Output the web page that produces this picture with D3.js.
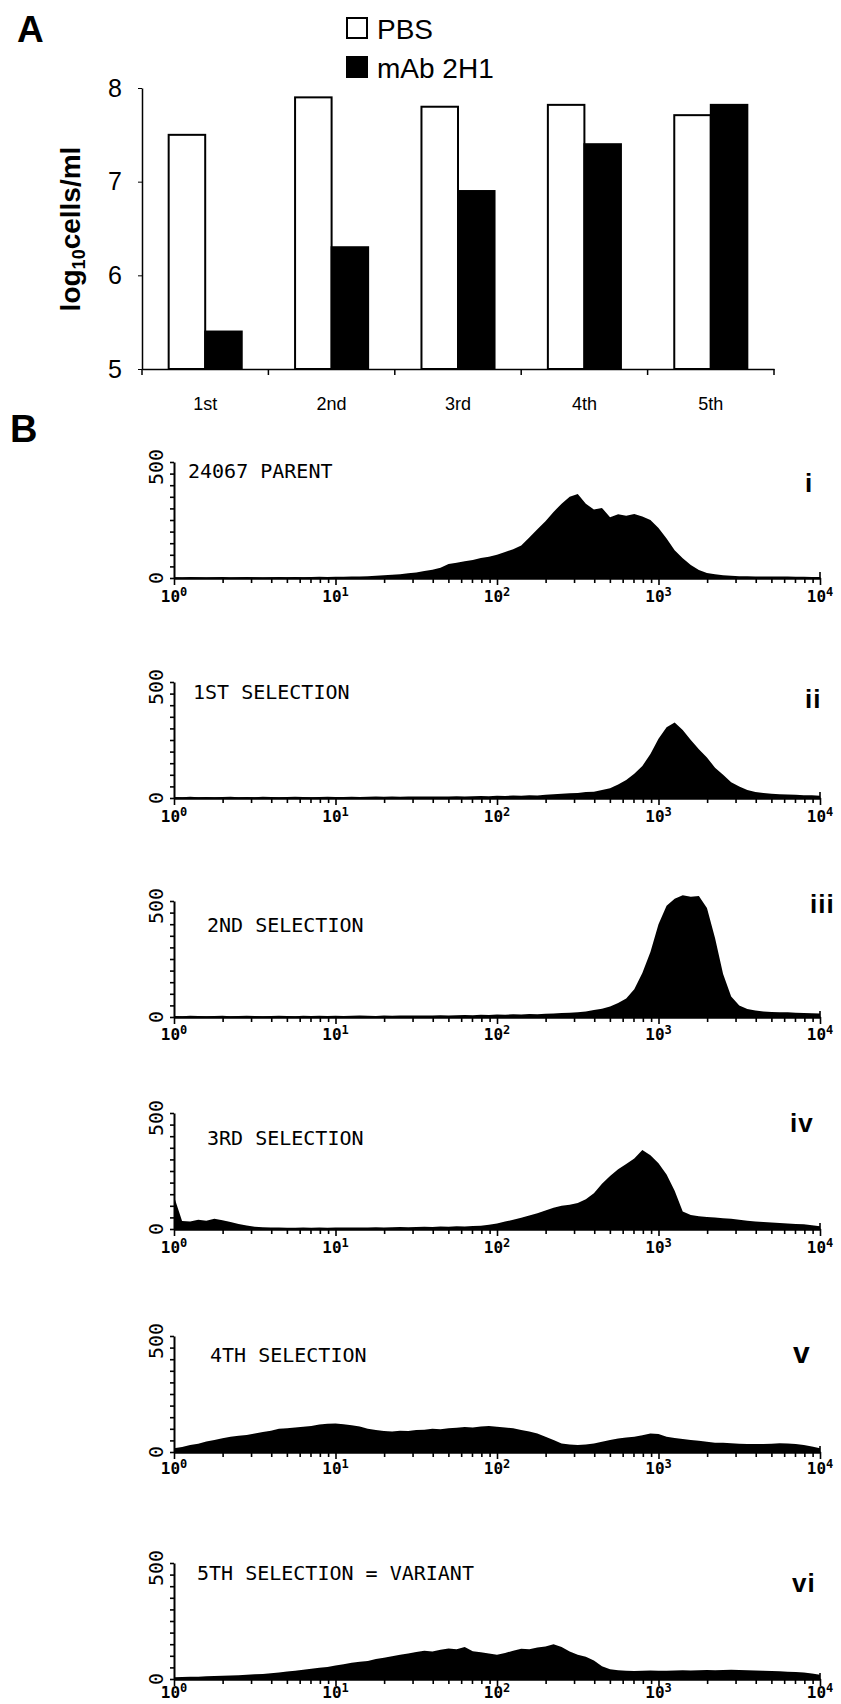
<!DOCTYPE html>
<meta charset="utf-8">
<html>
<head>
  <script src="https://cdnjs.cloudflare.com/ajax/libs/d3/7.8.5/d3.min.js"></script>
  <style>
    body { margin: 0; background: #fff; }
    svg { display: block; }
    .sans { font-family: "Liberation Sans", Arial, sans-serif; }
    .mono { font-family: "DejaVu Sans Mono", monospace; }
    .axis path, .axis line { stroke: #000; }
  </style>
</head>
<body>
<div id="chart"></div>
<script>
// ---- panel A data ----
var rounds = ["1st", "2nd", "3rd", "4th", "5th"],
    series = ["PBS", "mAb 2H1"],
    pbsValues = [7.5, 7.9, 7.8, 7.82, 7.71],
    mabValues = [5.4, 6.3, 6.9, 7.4, 7.82],
    yTicksA = [5, 6, 7, 8];

// ---- panel B data: counts per channel, 20 channels per decade (10^0 .. 10^4) ----
var panelTitles = ["24067 PARENT", "1ST SELECTION", "2ND SELECTION",
                   "3RD SELECTION", "4TH SELECTION", "5TH SELECTION = VARIANT"],
    numerals = ["i", "ii", "iii", "iv", "v", "vi"],
    decades = [0, 1, 2, 3, 4];

var histParent = [3,2,4,3,2,3,4,2,3,4,3,2,3,4,3,4,3,4,5,4,5,
                  5,6,6,8,10,12,14,16,20,24,
                  30,36,44,60,66,72,78,86,92,100,
                  112,124,140,175,210,245,285,320,350,362,
                  320,295,302,262,275,268,276,265,250,215,
                  170,120,85,56,34,22,16,12,10,
                  8,8,7,7,6,6,6,5,5,4,4];
var histSel1 = [4,3,5,3,4,3,4,5,3,4,3,5,4,3,4,5,4,3,4,5,4,
                4,5,4,5,6,5,6,5,6,7,
                6,7,6,7,8,7,8,9,8,10,
                9,11,10,12,11,14,16,18,20,22,
                26,27,35,42,58,78,105,138,190,255,
                305,325,293,250,210,175,130,100,68,50,
                34,26,22,18,16,15,14,12,12,10];
var histSel2 = [4,3,5,4,3,4,5,3,4,5,4,3,4,5,4,3,5,4,5,4,5,
                4,5,6,5,4,6,5,6,7,6,
                7,6,8,7,8,9,8,10,9,11,
                10,12,11,13,12,14,15,17,18,20,
                24,30,36,45,60,80,120,190,280,400,
                480,510,525,518,522,470,340,185,88,50,
                35,28,24,22,20,20,18,17,16,15];
var histSel3 = [140,35,32,40,36,44,38,30,22,15,10,8,6,6,5,5,6,5,6,5,6,
                6,7,6,7,8,7,8,9,8,9,
                10,9,11,10,12,11,13,14,18,24,
                32,40,48,58,68,80,92,100,104,112,
                128,154,195,228,258,280,304,340,318,283,
                235,165,75,60,55,52,50,46,44,40,
                36,32,30,28,26,24,22,20,16,12];
var histSel4 = [16,22,30,36,45,52,59,66,70,73,80,86,92,100,102,106,109,112,118,122,123,
                120,115,110,100,95,90,88,92,90,95,
                96,100,98,102,104,108,106,110,112,109,
                106,102,95,88,80,66,52,37,32,30,
                32,37,44,52,58,62,66,72,80,78,
                66,60,56,52,48,44,40,40,38,36,
                35,34,35,36,38,37,34,30,24,16];
var histSel5 = [8,9,10,10,12,13,14,15,16,18,20,22,25,28,32,36,40,44,48,52,58,
                64,70,74,78,86,92,98,104,110,116,
                122,118,126,132,128,138,120,115,110,104,
                112,122,130,128,136,140,150,138,118,105,
                96,80,55,42,38,36,35,36,37,36,
                36,37,38,37,38,39,38,39,40,39,
                38,37,36,35,33,31,30,28,24,18];

var histograms = [histParent, histSel1, histSel2, histSel3, histSel4, histSel5];

// ---- layout ----
var W = 841, H = 1704;
var svg = d3.select("#chart").append("svg")
  .attr("width", W).attr("height", H);

// ================= Panel A =================
var x0 = d3.scaleBand().domain(rounds).range([142, 774]);
var x1 = d3.scaleBand().domain(series).range([0, x0.bandwidth()])
  .paddingInner(0).paddingOuter(0.73);
var yA = d3.scaleLinear().domain([5, 8]).range([369, 88]);

svg.append("text").attr("class", "sans")
  .attr("x", 17).attr("y", 42)
  .style("font-size", "37px").style("font-weight", "bold")
  .text("A");

var groups = svg.selectAll(".round")
  .data(rounds.map(function(r, i) { return {round: r, vals: [pbsValues[i], mabValues[i]]}; }))
  .enter().append("g")
  .attr("class", "round")
  .attr("transform", function(d) { return "translate(" + x0(d.round) + ",0)"; });

groups.selectAll("rect")
  .data(function(d) { return d.vals.map(function(v, j) { return {s: series[j], v: v}; }); })
  .enter().append("rect")
  .attr("x", function(d) { return x1(d.s); })
  .attr("y", function(d) { return yA(d.v); })
  .attr("width", x1.bandwidth())
  .attr("height", function(d) { return yA(5) - yA(d.v); })
  .style("fill", function(d) { return d.s == "PBS" ? "#fff" : "#000"; })
  .style("stroke", "#000")
  .style("stroke-width", 2);

var yAxisA = svg.append("g").attr("class", "axis sans")
  .attr("transform", "translate(142,0)")
  .call(d3.axisLeft(yA).tickValues(yTicksA).tickSize(4).tickSizeOuter(0).tickPadding(16).tickFormat(d3.format("d")));
yAxisA.selectAll("text").style("font-size", "25px").style("fill", "#000");
yAxisA.select(".domain").style("stroke-width", 1.5);

var xAxisA = svg.append("g").attr("class", "axis sans")
  .attr("transform", "translate(0,369)")
  .call(d3.axisBottom(x0).tickSize(0).tickSizeOuter(0).tickPadding(28));
xAxisA.selectAll("text").style("font-size", "18px").style("fill", "#000");
xAxisA.select(".domain").style("stroke-width", 1.5);

var boundaries = rounds.map(function(r) { return x0(r); }).concat([x0.range()[1]]);
svg.selectAll(".bound").data(boundaries).enter().append("line")
  .attr("x1", function(d) { return d; }).attr("x2", function(d) { return d; })
  .attr("y1", 369).attr("y2", 375)
  .style("stroke", "#000").style("stroke-width", 1.5);

var title = svg.append("text").attr("class", "sans")
  .attr("transform", "translate(80,229) rotate(-90)")
  .attr("text-anchor", "middle")
  .style("font-size", "28px").style("font-weight", "bold");
title.append("tspan").text("log");
title.append("tspan").attr("dy", 5).style("font-size", "18px").text("10");
title.append("tspan").attr("dy", -5).text("cells/ml");

var legend = svg.selectAll(".legend").data(series).enter().append("g")
  .attr("class", "legend")
  .attr("transform", function(d, i) { return "translate(347," + (18 + i * 39) + ")"; });
legend.append("rect")
  .attr("width", 20).attr("height", 20)
  .style("fill", function(d, i) { return i == 0 ? "#fff" : "#000"; })
  .style("stroke", "#000").style("stroke-width", 2);
legend.append("text").attr("class", "sans")
  .attr("x", 30).attr("y", 21)
  .style("font-size", "28px")
  .text(function(d) { return d; });

// ================= Panel B =================
svg.append("text").attr("class", "sans")
  .attr("x", 10).attr("y", 442)
  .style("font-size", "38px").style("font-weight", "bold")
  .text("B");

var baselines = [578, 798, 1017, 1229, 1452, 1679],
    labelDy = [24, 24, 23, 24, 22, 19],
    titleX = [188, 193, 207, 207, 210, 197],
    titleY = [478, 699, 932, 1145, 1362, 1580],
    numX = [805, 805, 810, 790, 793, 792],
    numY = [492, 708, 913, 1132, 1363, 1592],
    numSize = [26, 26, 26, 26, 30, 26];

var xB = d3.scaleLog().domain([1, 1e4]).range([174, 820]);
var yB = d3.scaleLinear().domain([0, 500]).range([0, -116]);
var channels = histParent.map(function(c, i) { return Math.pow(10, i / 20); });

var minorTicks = [];
decades.slice(0, 4).forEach(function(k) {
  for (var m = 1; m <= 9; m++) minorTicks.push(m * Math.pow(10, k));
});
minorTicks.push(1e4);

var area = d3.area()
  .x(function(d) { return xB(d.ch); })
  .y0(0)
  .y1(function(d) { return yB(d.count); });

histograms.forEach(function(counts, p) {
  var g = svg.append("g").attr("transform", "translate(0," + baselines[p] + ")");
  var pts = counts.map(function(c, i) { return {ch: channels[i], count: c}; });

  g.append("path").datum(pts).attr("d", area).style("fill", "#000");

  var xa = g.append("g").attr("class", "axis")
    .call(d3.axisBottom(xB).tickValues(minorTicks).tickSize(5).tickSizeOuter(0).tickFormat(""));
  xa.select(".domain").style("stroke-width", 2.5);
  xa.selectAll(".tick line").style("stroke-width", 1.6)
    .attr("y2", function(d) { return Math.abs(Math.log10(d) % 1) < 1e-9 ? 7 : 5; });
  g.append("line").attr("x1", xB(1e4)).attr("x2", xB(1e4))
    .attr("y1", 0).attr("y2", -6).style("stroke", "#000").style("stroke-width", 1.6);

  var ya = g.append("g").attr("class", "axis")
    .attr("transform", "translate(174,0)")
    .call(d3.axisLeft(yB).tickValues(d3.range(0, 501, 50)).tickSize(4).tickSizeOuter(0).tickFormat(""));
  ya.select(".domain").style("stroke-width", 2);
  ya.selectAll(".tick line").style("stroke-width", 1.6);

  g.append("text").attr("class", "mono")
    .attr("transform", "translate(163," + (yB(500) + 5) + ") rotate(-90)")
    .attr("text-anchor", "middle").style("font-size", "20px")
    .text("500");
  g.append("text").attr("class", "mono")
    .attr("transform", "translate(163,0) rotate(-90)")
    .attr("text-anchor", "middle").style("font-size", "20px")
    .text("0");

  var lbl = g.selectAll(".xl").data(decades).enter().append("text")
    .attr("class", "xl mono")
    .attr("x", function(d) { return xB(Math.pow(10, d)); })
    .attr("y", labelDy[p])
    .attr("text-anchor", "middle")
    .style("font-size", "16px")
    .style("font-weight", "bold");
  lbl.append("tspan").text("10");
  lbl.append("tspan").attr("dy", -6).style("font-size", "12px").text(function(d) { return d; });

  svg.append("text").attr("class", "mono")
    .attr("x", titleX[p]).attr("y", titleY[p])
    .style("font-size", "20px")
    .text(panelTitles[p]);

  svg.append("text").attr("class", "sans")
    .attr("x", numX[p]).attr("y", numY[p])
    .style("font-size", numSize[p] + "px").style("font-weight", "bold")
    .style("letter-spacing", "1px")
    .text(numerals[p]);
});
</script>
</body>
</html>
